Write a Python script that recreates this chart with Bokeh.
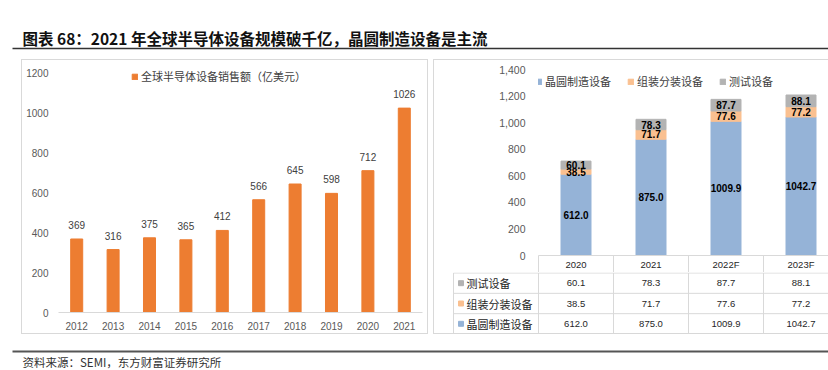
from bokeh.plotting import figure
from bokeh.layouts import column, row
from bokeh.models import (ColumnDataSource, FactorRange, Range1d, Legend, LegendItem, Label,
                          FixedTicker, NumeralTickFormatter, Spacer)
from bokeh.embed import file_html
from bokeh.resources import INLINE
from bokeh.core.properties import value

# ---------------- data ----------------
TITLE = "图表 68：2021 年全球半导体设备规模破千亿，晶圆制造设备是主流"
SOURCE = "资料来源：SEMI，东方财富证券研究所"

years = ["2012", "2013", "2014", "2015", "2016", "2017", "2018", "2019", "2020", "2021"]
sales = [369, 316, 375, 365, 412, 566, 645, 598, 712, 1026]
sales_name = "全球半导体设备销售额（亿美元）"
left_ticks = [0, 200, 400, 600, 800, 1000, 1200]

seg_years = ["2020", "2021", "2022F", "2023F"]
wafer = [612.0, 875.0, 1009.9, 1042.7]
assembly = [38.5, 71.7, 77.6, 77.2]
testing = [60.1, 78.3, 87.7, 88.1]
seg_names = ["晶圆制造设备", "组装分装设备", "测试设备"]
right_ticks = [0, 200, 400, 600, 800, 1000, 1200, 1400]

# ---------------- style ----------------
CJK = "Noto Sans CJK SC"
NUM = "Liberation Sans"
ORANGE = "#ED7D31"
C_WAFER, C_ASM, C_TEST = "#95B3D7", "#FAC090", "#B3B3B3"
BORDER = "#D9D9D9"
AXIS_TXT = "#595959"
TABLE_TXT = "#262626"
COMMON = dict(toolbar_location=None, output_backend="svg", frame_align=False)


def blank(w, h):
    p = figure(width=w, height=h, x_range=Range1d(0, w), y_range=Range1d(0, h),
               x_axis_type=None, y_axis_type=None, min_border=0, **COMMON)
    p.grid.visible = False
    p.outline_line_color = None
    return p


# ---------------- header (page y 0..59) ----------------
head = blank(828, 59)
head.add_layout(Label(x=22, y=22, text=TITLE, text_font=CJK, text_font_size="15.5px",
                      text_font_style="bold", text_baseline="middle", text_color="#111111"))
head.segment(x0=[12], y0=[11], x1=[828], y1=[11], line_color="#333333", line_width=1.3)

# ---------------- left chart (page x 21..428, y 59..334) ----------------
src1 = ColumnDataSource(dict(year=years, sales=sales, label=[str(v) for v in sales]))
p1 = figure(width=407, height=275, x_range=FactorRange(*years), y_range=Range1d(0, 1260),
            min_border_left=37, min_border_right=6, min_border_top=2, min_border_bottom=22,
            styles={"box-shadow": f"inset 0 0 0 1px {BORDER}"}, **COMMON)
p1.border_fill_color = None
p1.background_fill_color = None
r1 = p1.vbar(x="year", top="sales", width=0.33, color=ORANGE, source=src1)
p1.text(x="year", y="sales", text="label", source=src1, text_align="center",
        text_baseline="bottom", y_offset=-10, text_font=value(NUM), text_font_size="10px",
        text_color="#404040")
p1.grid.visible = False
p1.outline_line_color = None
p1.yaxis.ticker = FixedTicker(ticks=left_ticks)
p1.yaxis.axis_line_color = None
p1.xaxis.axis_line_color = BORDER
for ax in (p1.xaxis, p1.yaxis):
    ax.major_tick_line_color = None
    ax.minor_tick_line_color = None
    ax.major_tick_out = 0
    ax.major_tick_in = 0
    ax.major_label_text_font = NUM
    ax.major_label_text_font_size = "10px"
    ax.major_label_text_color = AXIS_TXT
p1.xaxis.major_label_standoff = 9
p1.yaxis.major_label_standoff = 10
leg1 = Legend(items=[LegendItem(label=sales_name, renderers=[r1])], location=(73, 228),
              orientation="horizontal", glyph_width=7, glyph_height=7, label_standoff=3,
              padding=0, margin=0, border_line_color=None, background_fill_alpha=0,
              label_text_font=CJK, label_text_font_size="11px", label_text_color="#404040",
              label_height=12)
p1.add_layout(leg1)

# ---------------- right chart (page x 433..828, y 59..272; frame bottom at 255) ----------------
xs = list(range(len(seg_years)))
XR = (-0.5, -0.5 + 290 / 75)
lo2 = [w + a for w, a in zip(wafer, assembly)]
src2 = ColumnDataSource(dict(
    x=xs, wafer=wafer, assembly=assembly, testing=testing,
    m_w=[w / 2 for w in wafer],
    m_a=[w + a / 2 for w, a in zip(wafer, assembly)],
    m_t=[l + t / 2 for l, t in zip(lo2, testing)],
    l_w=[f"{v:.1f}" for v in wafer], l_a=[f"{v:.1f}" for v in assembly],
    l_t=[f"{v:.1f}" for v in testing]))
p2 = figure(width=395, height=213, x_range=Range1d(*XR), y_range=Range1d(0, 1400),
            min_border_left=105, min_border_right=0, min_border_top=10,
            min_border_bottom=17, styles={"box-shadow": f"inset 1px 1px 0 0 {BORDER}"},
            **COMMON)
p2.border_fill_color = None
p2.background_fill_color = None
rs = p2.vbar_stack(["wafer", "assembly", "testing"], x="x", width=0.4,
                   color=[C_WAFER, C_ASM, C_TEST], source=src2)
for ycol, tcol in (("m_w", "l_w"), ("m_a", "l_a"), ("m_t", "l_t")):
    p2.text(x="x", y=ycol, text=tcol, source=src2, text_align="center",
            text_baseline="middle", text_font=value(NUM), text_font_size="10px",
            text_font_style="bold", text_color="#000000")
p2.grid.visible = False
p2.outline_line_color = None
p2.yaxis.ticker = FixedTicker(ticks=right_ticks)
p2.yaxis.formatter = NumeralTickFormatter(format="0,0")
p2.yaxis.axis_line_color = None
p2.yaxis.major_tick_line_color = None
p2.yaxis.minor_tick_line_color = None
p2.yaxis.major_tick_out = 0
p2.yaxis.major_tick_in = 0
p2.yaxis.major_label_standoff = 13
p2.yaxis.major_label_text_font = NUM
p2.yaxis.major_label_text_font_size = "10.5px"
p2.yaxis.major_label_text_color = AXIS_TXT
# x axis = header row of the data table
p2.xaxis.ticker = FixedTicker(ticks=xs, minor_ticks=[i - 0.5 for i in range(len(xs) + 1)])
p2.xaxis.major_label_overrides = {i: s for i, s in zip(xs, seg_years)}
p2.xaxis.axis_line_color = BORDER
p2.xaxis.major_tick_line_color = None
p2.xaxis.major_tick_out = 0
p2.xaxis.major_tick_in = 0
p2.xaxis.minor_tick_line_color = BORDER
p2.xaxis.minor_tick_out = 17
p2.xaxis.minor_tick_in = 0
p2.xaxis.major_label_standoff = -14
p2.xaxis.major_label_text_font = NUM
p2.xaxis.major_label_text_font_size = "9.5px"
p2.xaxis.major_label_text_color = TABLE_TXT
leg2 = Legend(items=[LegendItem(label=n, renderers=[r]) for n, r in zip(seg_names, rs)],
              location=(-3, 166), orientation="horizontal", glyph_width=7, glyph_height=7,
              label_standoff=3, spacing=16, padding=0, margin=0, border_line_color=None,
              background_fill_alpha=0, label_text_font=CJK, label_text_font_size="11px",
              label_text_color="#404040", label_height=12)
p2.add_layout(leg2)

# ---------------- data table body (page x 433..828, y 272..334) ----------------
ncol = len(seg_years)
lab_left = -0.5 - 85 / 75
rows_y = [2.5, 1.5, 0.5]          # test, assembly, wafer (top to bottom)
row_vals = [testing, assembly, wafer]
row_names = [seg_names[2], seg_names[1], seg_names[0]]
row_cols = [C_TEST, C_ASM, C_WAFER]

tb = figure(width=395, height=62, x_range=Range1d(XR[1] - 376 / 75, XR[1]),
            y_range=Range1d(-0.025, 3.025), x_axis_type=None, y_axis_type=None,
            min_border_left=19, min_border_right=0, min_border_top=0, min_border_bottom=0,
            styles={"box-shadow": f"inset 1px -1px 0 0 {BORDER}"}, **COMMON)
tb.border_fill_color = None
tb.background_fill_color = None
tb.grid.visible = False
tb.outline_line_color = None
h_y = [0, 1, 2, 3]
v_x = [lab_left] + [i - 0.5 for i in range(ncol + 1)]
tb.segment(x0=[lab_left] * len(h_y), y0=h_y, x1=[ncol - 0.5] * len(h_y), y1=h_y,
           line_color=BORDER, line_width=1)
tb.segment(x0=v_x, y0=[0] * len(v_x), x1=v_x, y1=[3] * len(v_x), line_color=BORDER, line_width=1)
for yv, vals in zip(rows_y, row_vals):
    tb.text(x=xs, y=[yv] * ncol, text=[f"{v:.1f}" for v in vals], text_align="center",
            text_baseline="middle", text_font=value(NUM), text_font_size="9.5px",
            text_color=TABLE_TXT)
tb.scatter(x=[lab_left + 7.5 / 75] * 3, y=rows_y, marker="square", size=5, color=row_cols)
tb.text(x=[lab_left] * 3, y=rows_y, text=row_names, x_offset=13, text_align="left",
        text_baseline="middle", text_font=value(CJK), text_font_size="11px",
        text_color=TABLE_TXT)

# ---------------- footer (page y 334..370) ----------------
foot = blank(828, 36)
foot.segment(x0=[12], y0=[19], x1=[828], y1=[19], line_color="#555555", line_width=1.8)
foot.add_layout(Label(x=22, y=9, text=SOURCE, text_font=CJK, text_font_size="11.5px",
                      text_baseline="middle", text_color="#333333"))

middle = row(Spacer(width=21, height=275), p1, Spacer(width=5, height=275), column(p2, tb))
layout = column(head, middle, foot)
open("out.html", "w").write(file_html(layout, INLINE))
